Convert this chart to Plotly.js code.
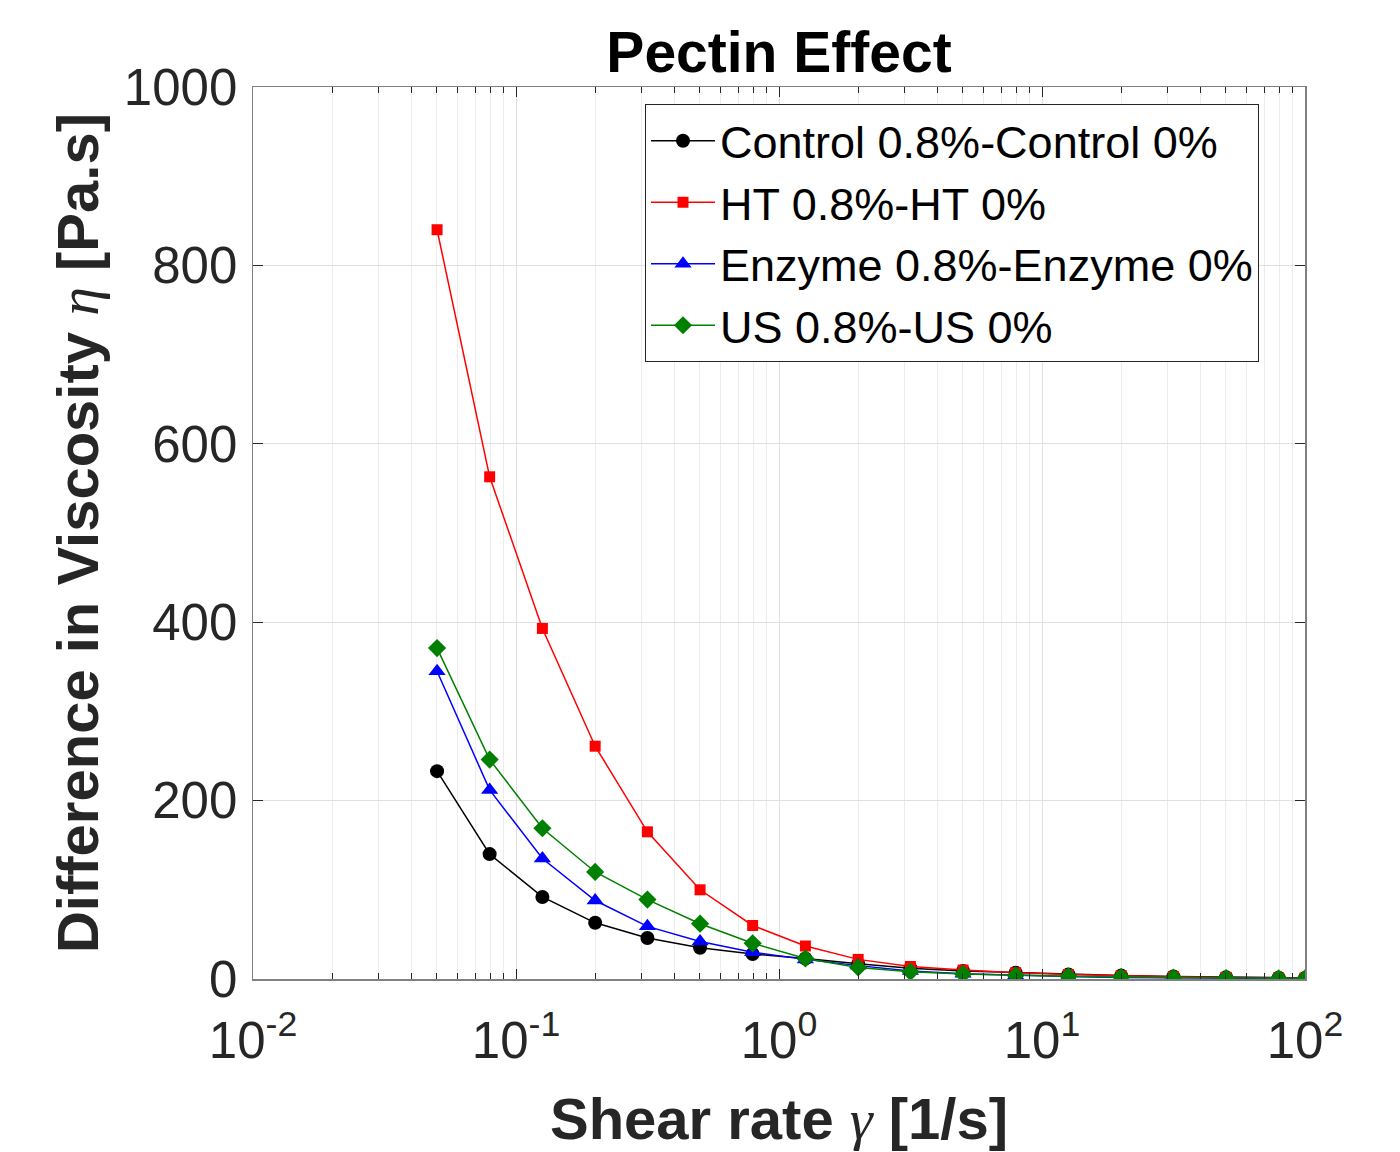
<!DOCTYPE html>
<html>
<head>
<meta charset="utf-8">
<script src="https://cdn.plot.ly/plotly-3.0.1.min.js"></script>
<style>
html,body{margin:0;padding:0;background:#fff;}
#chart{width:1400px;height:1152px;}
</style>
</head>
<body>
<div id="chart"></div>
<script>
// Shear rate (1/s)
const shearRate = [0.0501, 0.0794, 0.126, 0.2, 0.316, 0.501, 0.794, 1.26, 2, 3.16, 5.01, 7.94, 12.6, 20, 31.6, 50.1, 79.4, 100];
// Difference in viscosity (Pa.s)
const controlDiff = [233, 140, 92, 63, 46, 35, 28, 23, 17, 12, 9, 7, 5, 3.8, 2.8, 2, 1.5, 1.2];
const htDiff      = [840, 563, 393, 261, 165, 100, 60, 37, 22, 14, 10, 7, 5, 3.5, 2.5, 1.8, 1.3, 1];
const enzymeDiff  = [345, 212, 135, 88, 59, 42, 30, 22, 15, 9, 6, 4, 2.8, 1.8, 1.2, 0.8, 0.6, 0.5];
const usDiff      = [371, 246, 169, 120, 89, 62, 40, 23, 13, 8, 5.5, 4, 3, 2.2, 1.5, 1, 0.8, 0.6];

const seriesNames = ['Control 0.8%-Control 0%', 'HT 0.8%-HT 0%', 'Enzyme 0.8%-Enzyme 0%', 'US 0.8%-US 0%'];

const xTickVals = [0.01, 0.1, 1, 10, 100];
const xTickText = ['10<sup>-2</sup>', '10<sup>-1</sup>', '10<sup>0</sup>', '10<sup>1</sup>', '10<sup>2</sup>'];
const yTickVals = [0, 200, 400, 600, 800, 1000];

const greek = s => '<span style="font-family:\'Liberation Serif\',serif;font-style:italic;font-weight:normal">' + s + '</span>';

function mk(name, y, color, symbol, size) {
  return {
    type: 'scatter', mode: 'lines+markers', name: name,
    x: shearRate, y: y,
    line: {color: color, width: 1.5},
    marker: {color: color, symbol: symbol, size: size, line: {width: 0}}
  };
}

const traces = [
  mk(seriesNames[0], controlDiff, '#000000', 'circle', 14),
  mk(seriesNames[1], htDiff, '#ff0000', 'square', 11),
  mk(seriesNames[2], enzymeDiff, '#0000ff', 'triangle-up', 15),
  mk(seriesNames[3], usDiff, '#008000', 'diamond', 14)
];

const axisCol = '#262626';
const layout = {
  width: 1400, height: 1152,
  paper_bgcolor: '#fff', plot_bgcolor: '#fff',
  margin: {l: 253, r: 95, t: 87, b: 173},
  font: {family: 'Liberation Sans, Arial, sans-serif', color: axisCol},
  title: {
    text: '<b>Pectin Effect</b>',
    font: {size: 57, color: '#000', family: 'Liberation Sans, Arial, sans-serif'},
    x: 0.5, xref: 'paper', y: 1 - 52/1152, yref: 'container', yanchor: 'middle'
  },
  xaxis: {
    type: 'log', range: [-2, 2],
    tickvals: xTickVals, ticktext: xTickText,
    ticks: 'inside', ticklen: 10, tickcolor: axisCol,
    showline: true, linecolor: '#808080', linewidth: 1.5, mirror: 'ticks',
    showgrid: true, gridcolor: '#e0e0e0', gridwidth: 1,
    minor: {showgrid: true, gridcolor: '#ececec', ticks: 'inside', ticklen: 6, tickcolor: axisCol, dtick: 'D1'},
    zeroline: false,
    tickfont: {size: 51, color: axisCol},
    ticklabelstandoff: 16,
    title: {text: '<b>Shear rate ' + greek('γ') + ' [1/s]</b>', font: {size: 58, color: axisCol}, standoff: 30}
  },
  yaxis: {
    range: [0, 1000], tickvals: yTickVals,
    ticks: 'inside', ticklen: 10, tickcolor: axisCol,
    showline: true, linecolor: '#808080', linewidth: 1.5, mirror: 'ticks',
    showgrid: true, gridcolor: '#e0e0e0', gridwidth: 1,
    zeroline: false,
    tickfont: {size: 51, color: axisCol},
    ticklabelstandoff: 4,
    title: {text: '<b>Difference in Viscosity ' + greek('η') + ' [Pa.s]</b>', font: {size: 58, color: axisCol}, standoff: 6}
  },
  legend: {
    x: (645-253)/1052, y: (979-104)/892, xanchor: 'left', yanchor: 'top',
    bgcolor: '#fff', bordercolor: '#262626', borderwidth: 1,
    font: {size: 45, color: '#000'},
    itemwidth: 64, tracegroupgap: 0
  },
  showlegend: true
};

Plotly.newPlot('chart', traces, layout, {displayModeBar: false, staticPlot: true});
</script>
</body>
</html>
